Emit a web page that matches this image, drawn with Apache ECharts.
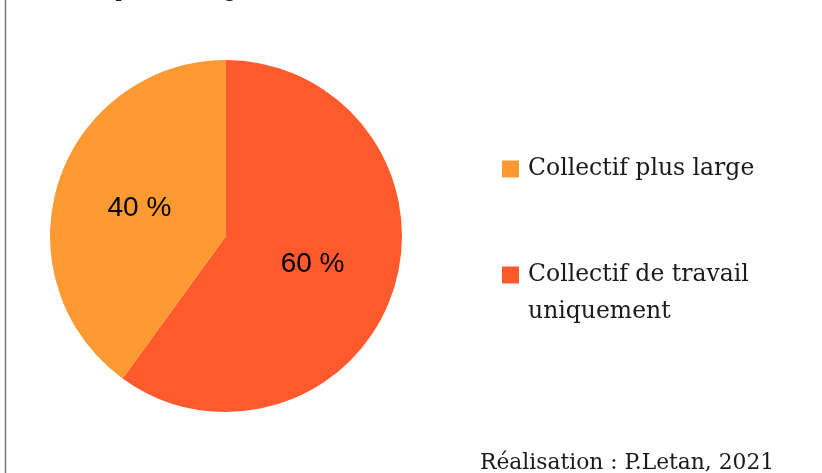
<!DOCTYPE html>
<html>
<head>
<meta charset="utf-8">
<script src="https://cdn.jsdelivr.net/npm/echarts@6/dist/echarts.min.js"></script>
<style>
  html, body { margin: 0; padding: 0; background: #fff; }
  #chart { width: 822px; height: 473px; }
</style>
</head>
<body>
<div id="chart"></div>
<script>
// catégories et valeurs (en %)
const categories = ['Collectif de travail uniquement', 'Collectif plus large']
const values = [60, 40]
const colors = ['#ff5a2e', '#ff9a33']
const legendOrder = ['Collectif plus large', 'Collectif de travail uniquement']

const serif = '"DejaVu Serif", serif'
const legendText = {
  fontFamily: serif,
  fontSize: 23.5,
  lineHeight: 36,
  padding: [6, 0, 0, 4],
  color: '#1a1a1a'
}

const chart = echarts.init(document.getElementById('chart'))

chart.setOption({
  backgroundColor: '#ffffff',
  animation: false,
  title: {
    // titre coupé en haut de l'image
    text: 'Collectif de référence, en pourcentage (n = 25, 2021)',
    left: -162,
    top: -19,
    padding: 0,
    textStyle: {
      fontFamily: serif,
      fontWeight: 'normal',
      fontSize: 21,
      color: '#1a1a1a'
    }
  },
  legend: [{
    data: [legendOrder[0]],
    left: 502,
    top: 148,
    padding: 0,
    icon: 'rect',
    itemWidth: 17,
    itemHeight: 17,
    selectedMode: false,
    textStyle: legendText
  }, {
    data: [legendOrder[1]],
    left: 502,
    top: 254,
    padding: 0,
    icon: 'rect',
    itemWidth: 17,
    itemHeight: 17,
    selectedMode: false,
    formatter: function (name) {
      return name.replace(' uniquement', '')
    },
    textStyle: legendText
  }],
  graphic: [{
    type: 'line',
    shape: { x1: 5.5, y1: 0, x2: 5.5, y2: 473 },
    style: { stroke: '#777777', lineWidth: 1.5 }
  }, {
    // deuxième ligne de la légende
    type: 'text',
    left: 528,
    top: 300,
    style: {
      text: 'uniquement',
      font: '23.5px "DejaVu Serif", serif',
      fill: '#1a1a1a'
    }
  }, {
    type: 'text',
    left: 480,
    top: 452,
    style: {
      text: 'Réalisation : P.Letan, 2021',
      font: '21.8px "DejaVu Serif", serif',
      fill: '#1a1a1a'
    }
  }],
  series: [{
    type: 'pie',
    center: [226, 236],
    radius: 176,
    startAngle: 90,
    clockwise: true,
    silent: true,
    label: {
      show: true,
      position: 'inside',
      formatter: '{c} %',
      fontFamily: '"Liberation Sans", Arial, sans-serif',
      fontSize: 28,
      color: '#000000'
    },
    labelLine: { show: false },
    itemStyle: { borderWidth: 0 },
    data: categories.map((name, i) => ({
      name: name,
      value: values[i],
      itemStyle: { color: colors[i] }
    }))
  }]
})
</script>
</body>
</html>
